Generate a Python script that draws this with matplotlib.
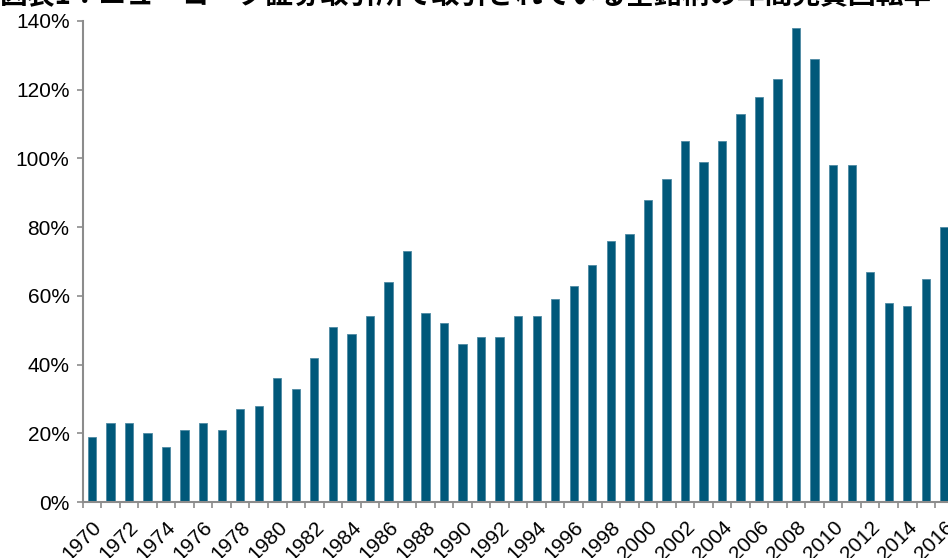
import matplotlib.pyplot as plt
from matplotlib.ticker import FixedLocator, PercentFormatter

# data (annual turnover, %)
years = list(range(1970, 2017))
turnover = [19, 23, 23, 20, 16, 21, 23, 21, 27, 28,
            36, 33, 42, 51, 49, 54, 64, 73, 55, 52,
            46, 48, 48, 54, 54, 59, 63, 69, 76, 78,
            88, 94, 105, 99, 105, 113, 118, 123, 138, 129,
            98, 98, 67, 58, 57, 65, 80]
title = '図表1：ニューヨーク証券取引所で取引されている全銘柄の年間売買回転率'

bar_color = '#00587a'
axis_grey = '#8c8c8c'

plt.rcParams['font.family'] = ['Liberation Sans', 'DejaVu Sans']

fig = plt.figure(figsize=(9.48, 5.58), dpi=100)
slot = 18.53
ax = fig.add_axes([82.7 / 948, 56 / 558, len(years) * slot / 948, 481 / 558])

x = list(range(len(years)))
ax.bar(x, turnover, width=0.45, color=bar_color, edgecolor='#4f8aa3', linewidth=0.6)

ax.set_xlim(-0.5, len(years) - 0.5)
ax.set_ylim(0, 140)
ax.set_yticks(range(0, 141, 20))
ax.yaxis.set_major_formatter(PercentFormatter(decimals=0))

# Excel style: tick marks between categories, label every other year
ax.xaxis.set_major_locator(FixedLocator([i - 0.5 for i in range(len(years) + 1)]))
ax.set_xticklabels([])
ax.xaxis.set_minor_locator(FixedLocator(x[::2]))
ax.set_xticklabels([str(y) for y in years[::2]], minor=True, rotation=45,
                   ha='right', va='top', rotation_mode='anchor', fontsize=15)
ax.tick_params(axis='x', which='major', length=4.5, color=axis_grey, width=1.2)
ax.tick_params(axis='x', which='minor', length=0, pad=11)
ax.tick_params(axis='y', length=4.5, color=axis_grey, width=1.2, labelsize=15, pad=5)

for s in ['top', 'right']:
    ax.spines[s].set_visible(False)
for s in ['left', 'bottom']:
    ax.spines[s].set_color(axis_grey)
    ax.spines[s].set_linewidth(1.5)

fig.text(0.0, 1 - 3 / 558, title, ha='left', va='baseline', fontsize=20,
         fontweight='bold', family=['Noto Sans CJK JP', 'DejaVu Sans'])

fig.savefig('out.png', dpi=100)
